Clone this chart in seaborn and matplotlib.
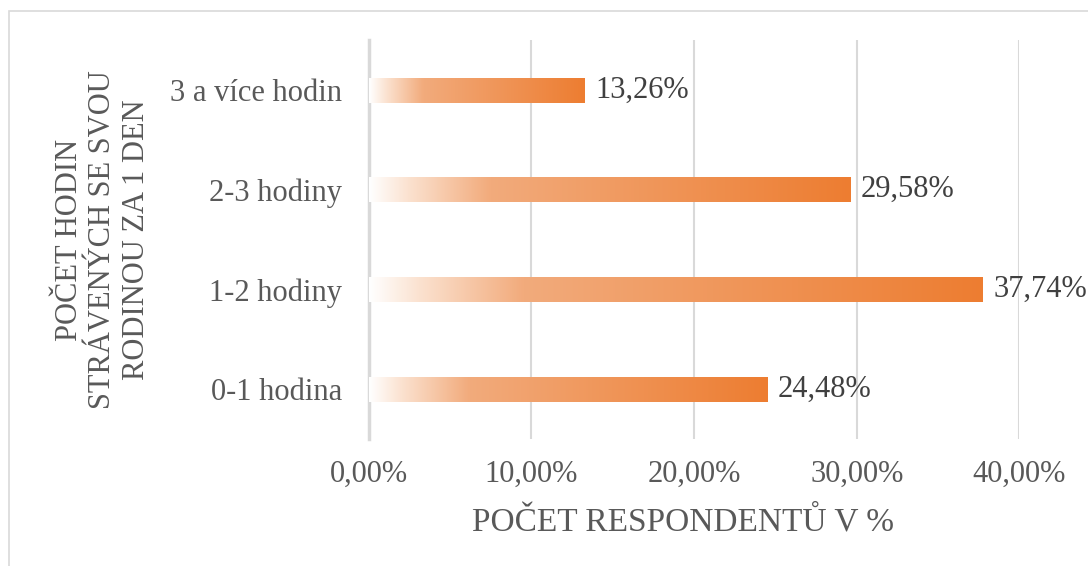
import numpy as np
import pandas as pd
import seaborn as sns
import matplotlib.pyplot as plt
from matplotlib.colors import LinearSegmentedColormap
from matplotlib.patches import Rectangle

# data
kategorie = ['3 a více hodin', '2-3 hodiny', '1-2 hodiny', '0-1 hodina']
podil = [13.26, 29.58, 37.74, 24.48]
popisky = ['13,26%', '29,58%', '37,74%', '24,48%']
xticky = [0, 10, 20, 30, 40]
xticky_text = ['0,00%', '10,00%', '20,00%', '30,00%', '40,00%']

df = pd.DataFrame({'Kategorie': kategorie, 'Podil': podil})

sns.set_theme(style='white')
plt.rcParams['font.family'] = ['Liberation Serif', 'DejaVu Serif']

fig = plt.figure(figsize=(10.88, 5.66), dpi=100)
ax = fig.add_axes([0.339, 0.224, 0.598, 0.705])

ax = sns.barplot(x='Podil', y='Kategorie', data=df, orient='h', width=0.25,
                 color='#ED7D31', ax=ax, zorder=3)

# gradient fill white -> orange inside every bar
cmap = LinearSegmentedColormap.from_list('grad', [(0, '#FFFFFF'), (0.08, '#FBE2D0'),
                                                   (0.25, '#F2AB7C'), (1, '#ED7D31')])
grad = np.linspace(0, 1, 256).reshape(1, -1)
for p in ax.patches:
    x0, y0 = p.get_x(), p.get_y()
    w, h = p.get_width(), p.get_height()
    p.set_facecolor('none')
    p.set_edgecolor('none')
    im = ax.imshow(grad, cmap=cmap, aspect='auto', extent=[x0, x0 + w, y0 + h, y0],
                   zorder=3, interpolation='bicubic')
    im.set_clip_path(p)

ax.set_xlim(0, 40)
ax.set_ylim(3.5, -0.5)
ax.set_xticks(xticky)
ax.set_xticklabels(xticky_text)
ax.xaxis.grid(True, color='#D9D9D9', linewidth=1.5, zorder=0)
ax.tick_params(axis='both', length=0, labelsize=22, labelcolor='#595959')
ax.tick_params(axis='y', pad=19)
ax.tick_params(axis='x', pad=15)

for s in ['top', 'right', 'bottom']:
    ax.spines[s].set_visible(False)
ax.spines['left'].set_color('#D9D9D9')
ax.spines['left'].set_linewidth(2.5)

for cont in ax.containers:
    ax.bar_label(cont, labels=popisky, padding=8, fontsize=22, color='#404040')

ax.set_xlabel('POČET RESPONDENTŮ V %', fontsize=24, color='#595959')
ax.xaxis.set_label_coords(0.483, -0.17)
ax.set_ylabel('POČET HODIN\nSTRÁVENÝCH SE SVOU\nRODINOU ZA 1 DEN', fontsize=22,
              color='#595959', multialignment='center', linespacing=1.2)
ax.yaxis.set_label_coords(-0.335, 0.5)

# chart area border
fig.patches.append(Rectangle((9 / 1088, -0.1), 1.1, 1.1 - 11 / 566, transform=fig.transFigure,
                             fill=False, edgecolor='#D9D9D9', linewidth=1.2))

fig.savefig('out.png', dpi=100)
